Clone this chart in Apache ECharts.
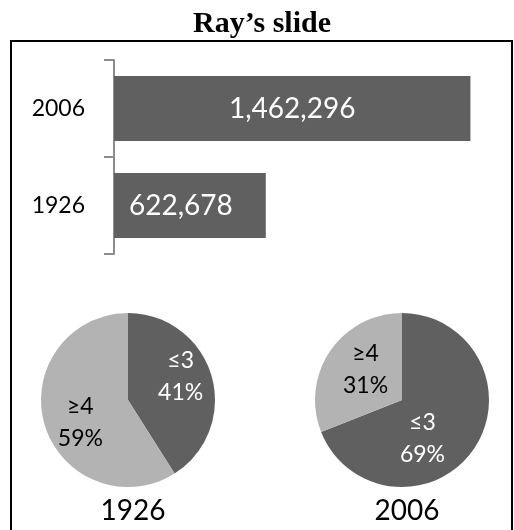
<!DOCTYPE html>
<html>
<head>
<meta charset="utf-8">
<script src="https://cdn.jsdelivr.net/npm/echarts@6/dist/echarts.min.js"></script>
<style>
  html, body { margin: 0; padding: 0; background: #ffffff; }
  #chart { width: 514px; height: 530px; }
</style>
</head>
<body>
<div id="chart"></div>
<script>
// ---- data ----
const categories = ['1926', '2006'];
const barValues = [622678, 1462296];
const pieNames = ['≤3', '≥4'];
const pie1926 = [41, 59];
const pie2006 = [69, 31];
const pieYears = ['1926', '2006'];
const chartTitle = 'Ray’s slide';

const DARK = '#606060';
const LIGHT = '#b3b3b3';
const FONT = 'Lato';

const chart = echarts.init(document.getElementById('chart'), null, { renderer: 'canvas' });

// label nudges (style only) to mimic the original "best fit" label placement
const labelNudge1926 = [[8, -10], [-3, 10]];
const labelNudge2006 = [[-18, 12], [2, -4]];

function pieData(vals, nudges) {
  return pieNames.map((n, i) => ({
    name: n,
    value: vals[i],
    itemStyle: { color: i === 0 ? DARK : LIGHT },
    label: { color: i === 0 ? '#ffffff' : '#000000', offset: nudges[i] }
  }));
}

const option = {
  backgroundColor: '#ffffff',
  animation: false,
  title: [
    { text: chartTitle, left: 257, top: 4, textAlign: 'center',
      textStyle: { fontFamily: 'Liberation Serif', fontWeight: 'bold', fontSize: 30, color: '#000' } },
    { text: pieYears[0], left: 128, top: 492, textAlign: 'center',
      textStyle: { fontFamily: FONT, fontWeight: 'normal', fontSize: 28, color: '#000' } },
    { text: pieYears[1], left: 402, top: 492, textAlign: 'center',
      textStyle: { fontFamily: FONT, fontWeight: 'normal', fontSize: 28, color: '#000' } }
  ],
  graphic: [
    { type: 'rect', shape: { x: 11, y: 41, width: 501, height: 530 },
      style: { fill: 'none', stroke: '#000', lineWidth: 2 }, silent: true }
  ],
  grid: { left: 114, top: 60, width: 390, height: 194, containLabel: false },
  xAxis: { type: 'value', min: 0, max: 1600000, show: false },
  yAxis: {
    type: 'category',
    data: categories,
    axisLine: { show: true, lineStyle: { color: '#8c8c8c', width: 2 } },
    axisTick: { show: true, length: 10, lineStyle: { color: '#8c8c8c', width: 2 } },
    axisLabel: { fontFamily: FONT, fontSize: 23, color: '#000', margin: 29 },
    splitLine: { show: false }
  },
  series: [
    {
      type: 'bar',
      data: barValues.map((v, i) => ({
        value: v,
        label: i === 0 ? { position: 'insideLeft', distance: 15 } : { position: 'inside' }
      })),
      barWidth: 65,
      itemStyle: { color: DARK },
      label: {
        show: true,
        color: '#ffffff',
        fontFamily: FONT,
        fontSize: 28,
        formatter: p => p.value.toLocaleString('en-US')
      }
    },
    {
      type: 'pie',
      center: [128, 400],
      radius: 87,
      startAngle: 90,
      clockwise: true,
      data: pieData(pie1926, labelNudge1926),
      label: { show: true, position: 'inside', fontFamily: FONT, fontSize: 23, lineHeight: 32,
               formatter: '{b}\n{c}%' },
      labelLine: { show: false },
      emphasis: { disabled: true }
    },
    {
      type: 'pie',
      center: [402, 400],
      radius: 87,
      startAngle: 90,
      clockwise: true,
      data: pieData(pie2006, labelNudge2006),
      label: { show: true, position: 'inside', fontFamily: FONT, fontSize: 23, lineHeight: 32,
               formatter: '{b}\n{c}%' },
      labelLine: { show: false },
      emphasis: { disabled: true }
    }
  ]
};

chart.setOption(option);
</script>
</body>
</html>
